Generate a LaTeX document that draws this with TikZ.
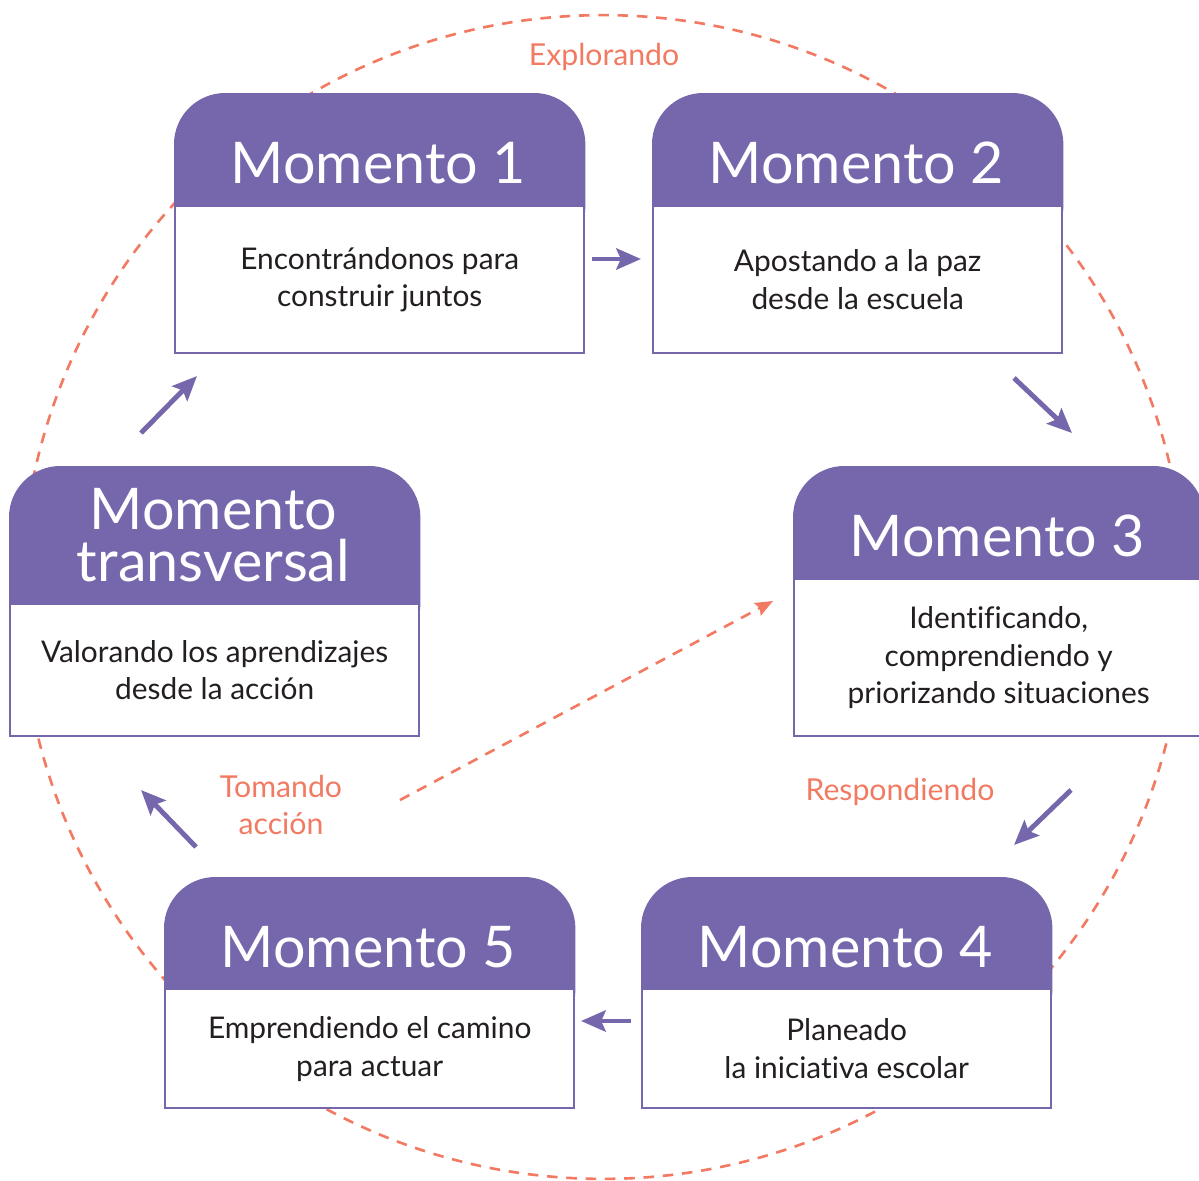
\documentclass[tikz,border=0pt]{standalone}
\usepackage{fontspec}
\setmainfont{Lato}[Ligatures={NoCommon}]
\usetikzlibrary{arrows.meta}
\definecolor{momcol}{HTML}{7667AD}
\definecolor{rutacol}{HTML}{F27A62}
\definecolor{textcol}{HTML}{231F20}
\tikzset{
  hdr/.style={fill=momcol,draw=momcol,line width=1.4pt,rounded corners=1cm,anchor=north west,minimum width=8.18cm,inner sep=0pt},
  titulo/.style={text=white,font=\fontsize{32.7}{30}\selectfont,align=center},
  cuerpo/.style={draw=momcol,line width=1.4pt,fill=white,anchor=north west,text=textcol,font=\fontsize{17}{21.5}\selectfont,align=center,minimum width=8.18cm,inner sep=0pt},
  etapa/.style={text=rutacol,font=\fontsize{17.2}{21.5}\selectfont,align=center},
  flecha/.style={draw=momcol,line width=2.8pt,-{Stealth[length=14pt,width=12pt,inset=2.5pt]}},
  ruta/.style={draw=rutacol,line width=1.5pt,dash pattern=on 6pt off 5pt}
}

\begin{document}
\begin{tikzpicture}[x=0.02cm,y=-0.02cm]
\useasboundingbox (0,0) rectangle (1199,1180);
% dashed circle round the moments
\draw[ruta] (603,597) circle (11.64cm);
% momento 1
\node[hdr,minimum height=3.24cm] (m1h) at (174,93) {};
\node[cuerpo,minimum height=2.94cm] (m1) at (174,205) {Encontrándonos para\\construir juntos};
\node[titulo] (m1t) at (378.5,163) {Momento 1};
% momento 2
\node[hdr,minimum height=3.24cm] (m2h) at (652,93) {};
\node[cuerpo,minimum height=2.94cm] (m2) at (652,205) {Apostando a la paz\\desde la escuela};
\node[titulo] (m2t) at (856.5,163) {Momento 2};
% momento 3
\node[hdr,minimum height=3.24cm] (m3h) at (793,466) {};
\node[cuerpo,minimum height=3.14cm] (m3) at (793,578) {Identificando,\\comprendiendo y\\priorizando situaciones};
\node[titulo] (m3t) at (997.5,536) {Momento 3};
% momento 4
\node[hdr,minimum height=3.24cm] (m4h) at (641,877) {};
\node[cuerpo,minimum height=2.38cm] (m4) at (641,988) {Planeado\\la iniciativa escolar};
\node[titulo] (m4t) at (845.5,947) {Momento 4};
% momento 5
\node[hdr,minimum height=3.24cm] (m5h) at (164,877) {};
\node[cuerpo,minimum height=2.38cm] (m5) at (164,988) {Emprendiendo el camino\\para actuar};
\node[titulo] (m5t) at (368.5,947) {Momento 5};
% momento transversal
\node[hdr,minimum height=3.74cm] (mTh) at (9,466) {};
\node[cuerpo,minimum height=2.64cm] (mT) at (9,603) {Valorando los aprendizajes\\desde la acción};
\node[titulo] (mTt) at (213.5,535) {Momento\\transversal};
% stages
\node[etapa] (explora) at (604,57) {Explorando};
\node[etapa] (responde) at (900,792) {Respondiendo};
\node[etapa] (toma) at (281,805) {Tomando\\acción};
% arrow ends
\coordinate (f12a) at (592,259);
\coordinate (f12b) at (641,259);
\coordinate (f23a) at (1014,378);
\coordinate (f23b) at (1072,433);
\coordinate (f34a) at (1071,790);
\coordinate (f34b) at (1014,845);
\coordinate (f45a) at (631,1021);
\coordinate (f45b) at (581,1021);
\coordinate (f5Ta) at (196,847);
\coordinate (f5Tb) at (141,790);
\coordinate (fT1a) at (141,433);
\coordinate (fT1b) at (197,376);
\coordinate (tomaa) at (400,800);
\coordinate (tomab) at (773,601);
% arrows
\draw[flecha] (f12a) -- (f12b);
\draw[flecha] (f23a) -- (f23b);
\draw[flecha] (f34a) -- (f34b);
\draw[flecha] (f45a) -- (f45b);
\draw[flecha] (f5Ta) -- (f5Tb);
\draw[flecha] (fT1a) -- (fT1b);
\draw[ruta,-{Stealth[length=10pt,width=8pt,inset=1.5pt]}] (tomaa) -- (tomab);
\end{tikzpicture}
\end{document}
